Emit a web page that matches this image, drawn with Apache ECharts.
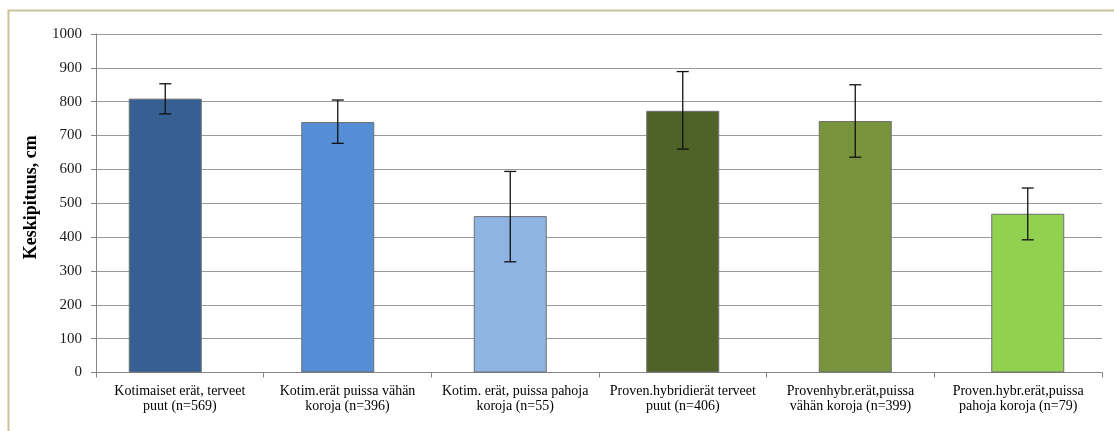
<!DOCTYPE html>
<html>
<head>
<meta charset="utf-8">
<script src="https://cdn.jsdelivr.net/npm/echarts@6/dist/echarts.min.js"></script>
<style>
  html, body { margin: 0; padding: 0; background: #fff; }
  #chart { width: 1114px; height: 431px; }
</style>
</head>
<body>
<div id="chart"></div>
<script>
// Mean height by seed lot group, with error bars
const categories = [
  'Kotimaiset erät, terveet\npuut (n=569)',
  'Kotim.erät puissa vähän\nkoroja (n=396)',
  'Kotim. erät, puissa pahoja\nkoroja (n=55)',
  'Proven.hybridierät terveet\npuut (n=406)',
  'Provenhybr.erät,puissa\nvähän koroja (n=399)',
  'Proven.hybr.erät,puissa\npahoja koroja (n=79)'
];
const meanValues = [809, 740, 462, 773, 743, 469];
const errorLow  = [764, 677, 327, 660, 636, 392];
const errorHigh = [853, 805, 594, 889, 850, 545];
const barColors = ['#376092', '#558ED5', '#8EB4E3', '#4F6228', '#77933C', '#92D050'];
const yTicks = [0, 100, 200, 300, 400, 500, 600, 700, 800, 900, 1000];

const serif = '"Liberation Serif", "Times New Roman", serif';
const chart = echarts.init(document.getElementById('chart'), null, { renderer: 'canvas' });

const option = {
  backgroundColor: '#ffffff',
  animation: false,
  graphic: [{
    type: 'rect',
    left: 6, top: 8,
    shape: { width: 1130, height: 450 },
    style: { fill: 'none', stroke: '#CBC29A', lineWidth: 2 },
    z: -1
  }],
  grid: [
    { left: 96, right: 12, top: 34, bottom: 58.5 },
    { left: 79, right: -6, top: 34, bottom: 58.5 }
  ],
  xAxis: [{
    gridIndex: 0,
    type: 'category',
    data: categories,
    boundaryGap: true,
    axisLine: { show: true, lineStyle: { color: '#868686', width: 1 } },
    axisTick: { show: true, length: 5, alignWithLabel: false, lineStyle: { color: '#868686' } },
    axisLabel: {
      interval: 0,
      margin: 11,
      color: '#000',
      fontFamily: serif,
      fontSize: 14,
      lineHeight: 15.5
    },
    splitLine: { show: false }
  }, {
    gridIndex: 1,
    type: 'category',
    data: categories,
    show: false
  }],
  yAxis: [{
    gridIndex: 0,
    type: 'value',
    min: 0, max: 1000, interval: 100,
    name: 'Keskipituus, cm',
    nameLocation: 'middle',
    nameGap: 56,
    nameTextStyle: {
      fontFamily: serif, fontSize: 18, fontWeight: 'bold', color: '#000',
      padding: [0, 0, 0, 12]
    },
    axisLine: { show: true, lineStyle: { color: '#868686', width: 1 } },
    axisTick: { show: true, length: 5, lineStyle: { color: '#868686' } },
    axisLabel: {
      margin: 14,
      color: '#1a1a1a',
      fontFamily: serif,
      fontSize: 15,
      formatter: function (v) { return String(v); },
      customValues: yTicks
    },
    splitLine: { show: true, lineStyle: { color: '#9a9a9a', width: 1 } }
  }, {
    gridIndex: 1,
    type: 'value',
    min: 0, max: 1000,
    show: false
  }],
  series: [{
    type: 'bar',
    xAxisIndex: 1,
    yAxisIndex: 1,
    barWidth: 73,
    data: meanValues.map((v, i) => ({
      value: v,
      itemStyle: { color: barColors[i] }
    })),
    itemStyle: { borderColor: '#6f6f6f', borderWidth: 1 },
    z: 2
  }, {
    type: 'custom',
    xAxisIndex: 1,
    yAxisIndex: 1,
    data: categories.map((c, i) => [i, errorLow[i], errorHigh[i]]),
    renderItem: function (params, api) {
      const idx = api.value(0);
      const lo = api.coord([idx, api.value(1)]);
      const hi = api.coord([idx, api.value(2)]);
      const cap = 6;
      const style = { stroke: '#111', lineWidth: 1.3 };
      return {
        type: 'group',
        children: [
          { type: 'line', shape: { x1: lo[0], y1: lo[1], x2: hi[0], y2: hi[1] }, style: style },
          { type: 'line', shape: { x1: hi[0] - cap, y1: hi[1], x2: hi[0] + cap, y2: hi[1] }, style: style },
          { type: 'line', shape: { x1: lo[0] - cap, y1: lo[1], x2: lo[0] + cap, y2: lo[1] }, style: style }
        ]
      };
    },
    z: 3
  }]
};

chart.setOption(option);
</script>
</body>
</html>
